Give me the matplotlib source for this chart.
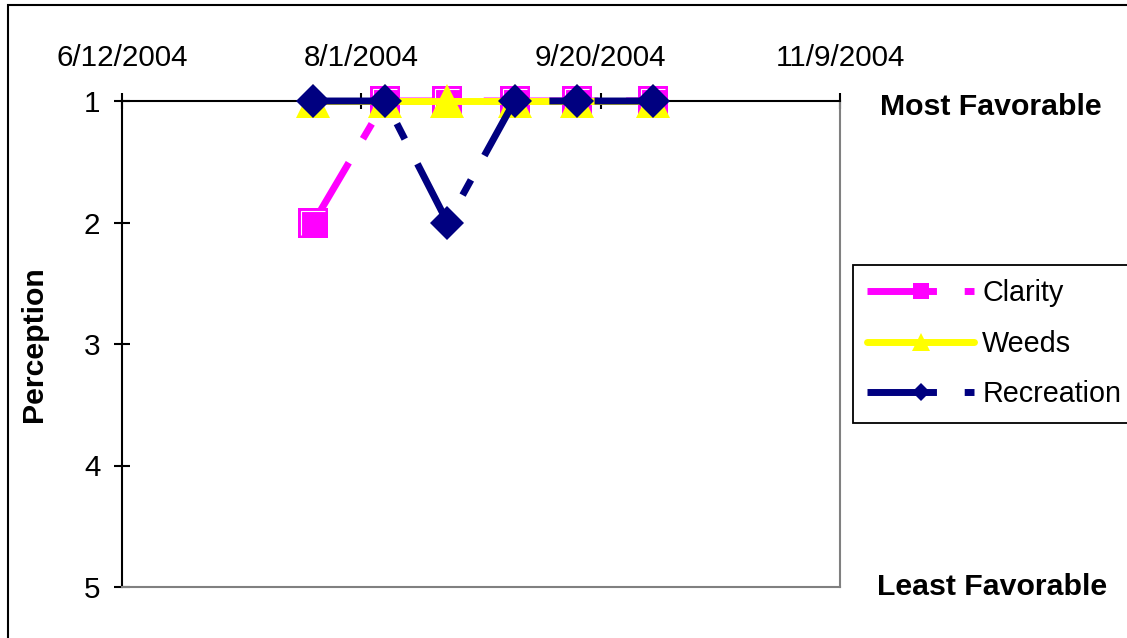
import datetime as dt
import matplotlib
matplotlib.use('Agg')
import matplotlib.pyplot as plt
from matplotlib.patches import Rectangle

plt.rcParams['font.family'] = ['Liberation Sans', 'DejaVu Sans']

dates = ['2004-07-22', '2004-08-06', '2004-08-19', '2004-09-02', '2004-09-15', '2004-10-01']
clarity = [2, 1, 1, 1, 1, 1]
weeds = [1, 1, 1, 1, 1, 1]
recreation = [1, 1, 2, 1, 1, 1]

x_ticks = ['2004-06-12', '2004-08-01', '2004-09-20', '2004-11-09']
x_tick_labels = ['6/12/2004', '8/1/2004', '9/20/2004', '11/9/2004']
y_ticks = [1, 2, 3, 4, 5]

def to_date(s):
    return dt.datetime.strptime(s, '%Y-%m-%d')

x = [to_date(d) for d in dates]
xt = [to_date(d) for d in x_ticks]

W, H = 1127, 638
fs = 21.3
fs_bold = 21.8
fig = plt.figure(figsize=(W / 100, H / 100), dpi=100)
ax = fig.add_axes([122 / W, 1 - 587 / H, (840 - 122) / W, (587 - 101) / H])

dash = (0, (10, 4, 2.5, 4))
ax.plot(x, clarity, color='#FF00FF', lw=5, ls=dash, marker='s', ms=22,
        mec='#FF00FF', mew=0, label='Clarity', zorder=3, clip_on=False)
# white bevel on the squares
ax.plot(x, clarity, ls='none', marker=[(-1, -1), (-1, 1), (1, 1)], ms=17,
        mfc='none', mec='white', mew=0.8, zorder=3.1, clip_on=False, label='_nolegend_')
ax.plot(x, weeds, color='#FFFF00', lw=5, solid_capstyle='round', marker='^', ms=24,
        mew=0, label='Weeds', zorder=3.2, clip_on=False)
ax.plot(x, recreation, color='#000080', lw=5, ls=dash, marker='D', ms=17,
        mew=0, label='Recreation', zorder=3.3, clip_on=False)

ax.set_xlim(xt[0], xt[-1])
ax.set_ylim(5, 1)
ax.set_xticks(xt)
ax.set_xticklabels(x_tick_labels)
ax.set_yticks(y_ticks)
ax.xaxis.tick_top()
ax.tick_params(axis='x', direction='inout', length=12, width=1.5, labelsize=fs, pad=15)
ax.tick_params(axis='y', direction='inout', length=12, width=1.5, labelsize=fs, pad=9.5)

for side in ['top', 'left']:
    ax.spines[side].set_color('black')
    ax.spines[side].set_linewidth(1.5)
for side in ['right', 'bottom']:
    ax.spines[side].set_color('#808080')
    ax.spines[side].set_linewidth(1.5)

ax.set_ylabel('Perception', fontsize=fs_bold, fontweight='bold')
ax.yaxis.set_label_coords(-0.103, 0.5)

fig.text(991 / W, 1 - 115 / H, 'Most Favorable', fontsize=fs_bold, fontweight='bold',
         ha='center', va='baseline')
fig.text(992 / W, 1 - 595 / H, 'Least Favorable', fontsize=fs_bold, fontweight='bold',
         ha='center', va='baseline')

leg = ax.legend(loc='upper left', bbox_to_anchor=(853 / W, 1 - 265 / H),
                bbox_transform=fig.transFigure, fontsize=20.7, handlelength=3.7,
                handletextpad=0.3, labelspacing=0.78, borderpad=0.5, borderaxespad=0,
                markerscale=0.55, fancybox=False, framealpha=1, edgecolor='black')
leg.get_frame().set_linewidth(1.3)

fig.add_artist(Rectangle((8 / W, -0.1), 1.2, 1.1 - 5 / H, fill=False, lw=1.5,
                         ec='black', transform=fig.transFigure))

fig.savefig('out.png', dpi=100)
